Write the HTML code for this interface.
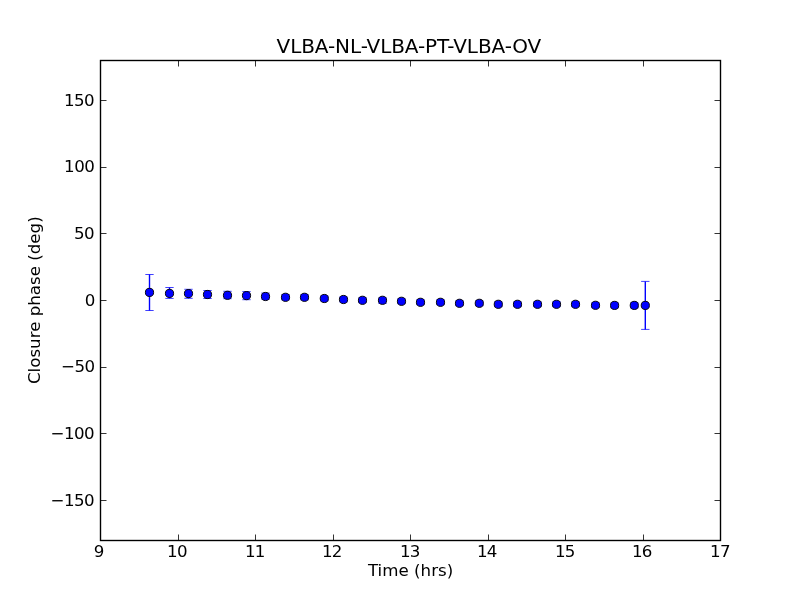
<!DOCTYPE html>
<html lang="en"><head><meta charset="utf-8"><title>VLBA-NL-VLBA-PT-VLBA-OV</title>
<style>html,body{margin:0;padding:0;background:#fff;}body{width:800px;height:600px;overflow:hidden;}svg{display:block;will-change:transform;}text{font-family:"DejaVu Sans", "Liberation Sans", sans-serif;fill:#000;}</style></head><body>
<svg width="800" height="600" viewBox="0 0 800 600">
<rect x="0" y="0" width="800" height="600" fill="#ffffff"/>
<g stroke="#0000ff" fill="none">
<path stroke-width="1.39" d="M149.50 274.50V310.50"/><path stroke-width="0.75" d="M145.33 274.50H153.67 M145.33 310.50H153.67"/>
<path stroke-width="1.39" d="M169.50 287.50V298.40"/><path stroke-width="0.75" d="M165.33 287.50H173.67 M165.33 298.40H173.67"/>
<path stroke-width="1.39" d="M188.50 289.30V298.30"/><path stroke-width="0.75" d="M184.33 289.30H192.67 M184.33 298.30H192.67"/>
<path stroke-width="1.39" d="M207.50 290.50V298.50"/><path stroke-width="0.75" d="M203.33 290.50H211.67 M203.33 298.50H211.67"/>
<path stroke-width="1.39" d="M227.50 291.30V298.70"/><path stroke-width="0.75" d="M223.33 291.30H231.67 M223.33 298.70H231.67"/>
<path stroke-width="1.39" d="M246.50 291.60V299.70"/><path stroke-width="0.75" d="M242.33 291.60H250.67 M242.33 299.70H250.67"/>
<path stroke-width="1.39" d="M265.50 293.10V299.30"/><path stroke-width="0.75" d="M261.33 293.10H269.67 M261.33 299.30H269.67"/>
<path stroke-width="1.39" d="M285.50 294.60V299.90"/><path stroke-width="0.75" d="M281.33 294.60H289.67 M281.33 299.90H289.67"/>
<path stroke-width="1.39" d="M304.50 294.70V299.90"/><path stroke-width="0.75" d="M300.33 294.70H308.67 M300.33 299.90H308.67"/>
<path stroke-width="1.39" d="M324.30 296.00V300.90"/><path stroke-width="0.75" d="M320.13 296.00H328.47 M320.13 300.90H328.47"/>
<path stroke-width="1.39" d="M343.50 297.00V301.90"/><path stroke-width="0.75" d="M339.33 297.00H347.67 M339.33 301.90H347.67"/>
<path stroke-width="1.39" d="M362.50 297.80V302.70"/><path stroke-width="0.75" d="M358.33 297.80H366.67 M358.33 302.70H366.67"/>
<path stroke-width="1.39" d="M382.50 297.90V303.40"/><path stroke-width="0.75" d="M378.33 297.90H386.67 M378.33 303.40H386.67"/>
<path stroke-width="1.39" d="M401.50 298.90V303.70"/><path stroke-width="0.75" d="M397.33 298.90H405.67 M397.33 303.70H405.67"/>
<path stroke-width="1.39" d="M420.50 299.90V304.70"/><path stroke-width="0.75" d="M416.33 299.90H424.67 M416.33 304.70H424.67"/>
<path stroke-width="1.39" d="M440.50 299.90V304.70"/><path stroke-width="0.75" d="M436.33 299.90H444.67 M436.33 304.70H444.67"/>
<path stroke-width="1.39" d="M459.50 300.90V305.70"/><path stroke-width="0.75" d="M455.33 300.90H463.67 M455.33 305.70H463.67"/>
<path stroke-width="1.39" d="M479.30 300.90V305.70"/><path stroke-width="0.75" d="M475.13 300.90H483.47 M475.13 305.70H483.47"/>
<path stroke-width="1.39" d="M498.30 301.90V306.70"/><path stroke-width="0.75" d="M494.13 301.90H502.47 M494.13 306.70H502.47"/>
<path stroke-width="1.39" d="M517.50 301.90V306.70"/><path stroke-width="0.75" d="M513.33 301.90H521.67 M513.33 306.70H521.67"/>
<path stroke-width="1.39" d="M537.50 301.90V306.70"/><path stroke-width="0.75" d="M533.33 301.90H541.67 M533.33 306.70H541.67"/>
<path stroke-width="1.39" d="M556.50 301.90V306.70"/><path stroke-width="0.75" d="M552.33 301.90H560.67 M552.33 306.70H560.67"/>
<path stroke-width="1.39" d="M575.50 301.90V306.70"/><path stroke-width="0.75" d="M571.33 301.90H579.67 M571.33 306.70H579.67"/>
<path stroke-width="1.39" d="M595.50 302.90V307.70"/><path stroke-width="0.75" d="M591.33 302.90H599.67 M591.33 307.70H599.67"/>
<path stroke-width="1.39" d="M614.60 303.00V307.80"/><path stroke-width="0.75" d="M610.43 303.00H618.77 M610.43 307.80H618.77"/>
<path stroke-width="1.39" d="M634.30 302.90V307.90"/><path stroke-width="0.75" d="M630.13 302.90H638.47 M630.13 307.90H638.47"/>
<path stroke-width="1.39" d="M645.30 281.40V329.40"/><path stroke-width="0.75" d="M641.13 281.40H649.47 M641.13 329.40H649.47"/>
</g>
<g fill="#0000ff" stroke="#000000" stroke-width="0.95">
<circle cx="149.50" cy="292.40" r="4.1"/>
<circle cx="169.50" cy="293.40" r="4.1"/>
<circle cx="188.50" cy="293.60" r="4.1"/>
<circle cx="207.50" cy="294.50" r="4.1"/>
<circle cx="227.50" cy="295.30" r="4.1"/>
<circle cx="246.50" cy="295.60" r="4.1"/>
<circle cx="265.50" cy="296.50" r="4.1"/>
<circle cx="285.50" cy="297.30" r="4.1"/>
<circle cx="304.50" cy="297.30" r="4.1"/>
<circle cx="324.30" cy="298.50" r="4.1"/>
<circle cx="343.50" cy="299.50" r="4.1"/>
<circle cx="362.50" cy="300.30" r="4.1"/>
<circle cx="382.50" cy="300.30" r="4.1"/>
<circle cx="401.50" cy="301.30" r="4.1"/>
<circle cx="420.50" cy="302.30" r="4.1"/>
<circle cx="440.50" cy="302.30" r="4.1"/>
<circle cx="459.50" cy="303.30" r="4.1"/>
<circle cx="479.30" cy="303.30" r="4.1"/>
<circle cx="498.30" cy="304.30" r="4.1"/>
<circle cx="517.50" cy="304.30" r="4.1"/>
<circle cx="537.50" cy="304.30" r="4.1"/>
<circle cx="556.50" cy="304.30" r="4.1"/>
<circle cx="575.50" cy="304.30" r="4.1"/>
<circle cx="595.50" cy="305.30" r="4.1"/>
<circle cx="614.60" cy="305.40" r="4.1"/>
<circle cx="634.30" cy="305.40" r="4.1"/>
<circle cx="645.30" cy="305.40" r="4.1"/>
</g>
<g stroke="#000" stroke-width="0.8" fill="none">
<path d="M100.5 540.5v-6 M100.5 60.5v6"/>
<path d="M178.5 540.5v-6 M178.5 60.5v6"/>
<path d="M255.5 540.5v-6 M255.5 60.5v6"/>
<path d="M333.5 540.5v-6 M333.5 60.5v6"/>
<path d="M410.5 540.5v-6 M410.5 60.5v6"/>
<path d="M488.5 540.5v-6 M488.5 60.5v6"/>
<path d="M565.5 540.5v-6 M565.5 60.5v6"/>
<path d="M643.5 540.5v-6 M643.5 60.5v6"/>
<path d="M720.5 540.5v-6 M720.5 60.5v6"/>
<path d="M100.5 100.5h6 M720.5 100.5h-6"/>
<path d="M100.5 167.5h6 M720.5 167.5h-6"/>
<path d="M100.5 233.5h6 M720.5 233.5h-6"/>
<path d="M100.5 300.5h6 M720.5 300.5h-6"/>
<path d="M100.5 367.5h6 M720.5 367.5h-6"/>
<path d="M100.5 433.5h6 M720.5 433.5h-6"/>
<path d="M100.5 500.5h6 M720.5 500.5h-6"/>
</g>
<rect x="100.5" y="60.5" width="620" height="480" fill="none" stroke="#000" stroke-width="1.39"/>
<g font-size="16.67px">
<text id="x9" x="93.70" y="557.1" letter-spacing="0">9</text>
<text id="x10" x="167.10" y="557.1" letter-spacing="-0.75">10</text>
<text id="x11" x="245.00" y="557.1" letter-spacing="-0.75">11</text>
<text id="x12" x="322.00" y="557.1" letter-spacing="-0.75">12</text>
<text id="x13" x="400.00" y="557.1" letter-spacing="-0.75">13</text>
<text id="x14" x="477.00" y="557.1" letter-spacing="-0.75">14</text>
<text id="x15" x="555.00" y="557.1" letter-spacing="-0.75">15</text>
<text id="x16" x="632.00" y="557.1" letter-spacing="-0.75">16</text>
<text id="x17" x="710.10" y="557.1" letter-spacing="-0.75">17</text>
<text id="y150" x="94.20" y="106.10" text-anchor="end" letter-spacing="-0.5">150</text>
<text id="y100" x="94.40" y="172.10" text-anchor="end" letter-spacing="-0.5">100</text>
<text id="y50" x="94.20" y="239.10" text-anchor="end" letter-spacing="-0.5">50</text>
<text id="y0" x="94.80" y="306.10" text-anchor="end" letter-spacing="-0.5">0</text>
<text id="y-50" x="94.60" y="372.10" text-anchor="end" letter-spacing="-0.5">−50</text>
<text id="y-100" x="94.20" y="439.10" text-anchor="end" letter-spacing="-0.5">−100</text>
<text id="y-150" x="94.20" y="506.10" text-anchor="end" letter-spacing="-0.5">−150</text>
<text x="410.6" y="576" text-anchor="middle" letter-spacing="0.03">Time (hrs)</text>
<text transform="translate(40,300.2) rotate(-90)" text-anchor="middle">Closure phase (deg)</text>
</g>
<text x="408.9" y="53" text-anchor="middle" font-size="20px" letter-spacing="-0.1">VLBA-NL-VLBA-PT-VLBA-OV</text>
</svg></body></html>
